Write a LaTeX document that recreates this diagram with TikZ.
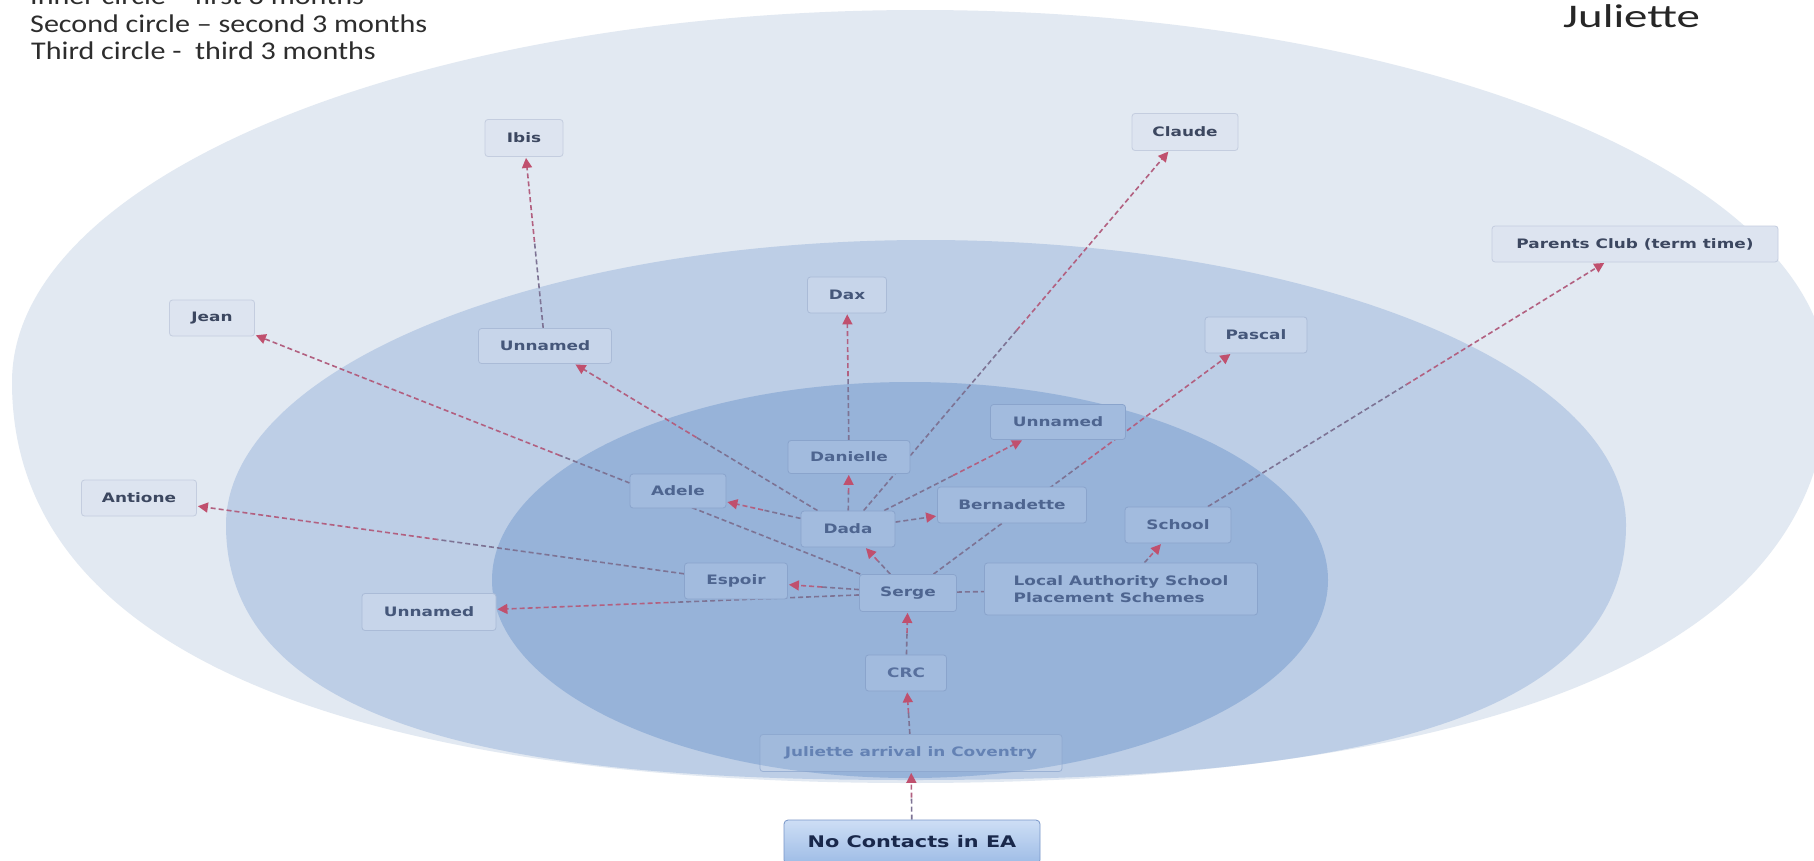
\documentclass[tikz,border=0pt]{standalone}
\usepackage{fontspec}
\usetikzlibrary{arrows.meta,calc}
\newfontfamily\nodefont[FakeStretch=1.3]{DejaVu Sans}
\newfontfamily\legfont[FakeStretch=1.18]{Carlito}
\newfontfamily\ttlfont[FakeStretch=1.42]{Carlito}
\definecolor{outerc}{RGB}{226,233,242}
\definecolor{midc}{RGB}{189,206,230}
\definecolor{innerc}{RGB}{151,179,217}
\definecolor{oboxf}{RGB}{221,228,240}
\definecolor{oboxd}{RGB}{196,205,223}
\definecolor{mboxf}{RGB}{199,213,234}
\definecolor{mboxd}{RGB}{170,187,215}
\definecolor{iboxf}{RGB}{162,187,222}
\definecolor{iboxd}{RGB}{138,164,204}
\definecolor{otext}{RGB}{60,71,96}
\definecolor{mtext}{RGB}{69,87,122}
\definecolor{itext}{RGB}{78,101,144}
\definecolor{crctext}{RGB}{88,112,158}
\definecolor{arrtext}{RGB}{100,130,180}
\definecolor{linkg}{RGB}{125,115,148}
\definecolor{linkr}{RGB}{178,96,128}
\definecolor{headc}{RGB}{192,80,110}
\definecolor{legc}{RGB}{45,45,45}
\definecolor{nctop}{RGB}{205,222,245}
\definecolor{ncbot}{RGB}{158,188,230}
\definecolor{ncdraw}{RGB}{120,150,200}
\definecolor{nctext}{RGB}{25,40,75}
\pgfdeclarelayer{bg}
\pgfdeclarelayer{links}
\pgfsetlayers{bg,links,main}
\tikzset{
  box/.style={rectangle, rounded corners=3pt, inner sep=0pt, line width=0.8pt,
    font=\nodefont\bfseries\fontsize{13}{15}\selectfont},
  obox/.style={box, fill=oboxf, draw=oboxd, text=otext},
  mbox/.style={box, fill=mboxf, draw=mboxd, text=mtext},
  ibox/.style={box, fill=iboxf, draw=iboxd, text=itext},
  sz/.style 2 args={minimum width=#1pt, minimum height=#2pt},
  linkA/.style={draw=linkg, line width=1.6pt, dash pattern=on 5pt off 3pt},
  linkB/.style={draw=linkr, line width=1.6pt, dash pattern=on 5pt off 3pt,
    -{Triangle[length=10pt,width=10pt,color=headc]}, shorten >=1pt},
  legend/.style={anchor=base west, inner sep=0pt, text=legc,
    font=\legfont\fontsize{25.5}{30}\selectfont}
}
\newcommand\lnk[2]{%
  \draw[linkA] (#1) -- ($(#1)!0.5!(#2)$);
  \draw[linkB] ($(#1)!0.5!(#2)$) -- (#2);}
\begin{document}
\begin{tikzpicture}[x=1pt,y=-1pt]
\useasboundingbox (0,0) rectangle (1814,860);
\begin{pgfonlayer}{bg}
\fill[white] (0,0) rectangle (1814,860);
\fill[outerc] (12,382) .. controls (12,176.5) and (418.5,10) .. (920,10)
  .. controls (1421.5,10) and (1828,176.5) .. (1828,382)
  .. controls (1828,720) and (1300,783) .. (910,783)
  .. controls (420,783) and (12,680) .. (12,382) -- cycle;
\fill[midc] (226,525) .. controls (226,367.6) and (539.4,240) .. (926,240)
  .. controls (1312.6,240) and (1626,367.6) .. (1626,525)
  .. controls (1626,750) and (1260,780) .. (910,780)
  .. controls (580,780) and (226,750) .. (226,525) -- cycle;
\fill[innerc] (910,580) ellipse [x radius=418, y radius=198];
\end{pgfonlayer}

% legend and title
\node[legend] (leg1) at (30,4) {Inner circle – first 3 months};
\node[legend] (leg2) at (30,32) {Second circle – second 3 months};
\node[legend] (leg3) at (31,59) {Third circle -\ \ third 3 months};
\node[anchor=base west, inner sep=0pt, text=black!85,
  font=\ttlfont\fontsize{33}{36}\selectfont] (title) at (1563,27) {Juliette};

% outer ring
\node[obox, sz={78}{37}] (ibis) at (524,138) {Ibis};
\node[obox, sz={106}{37}] (claude) at (1185,132) {Claude};
\node[obox, sz={286}{36}] (parents) at (1635,244) {Parents Club (term time)};
\node[obox, sz={85}{36}] (jean) at (212,318) {Jean};
\node[obox, sz={115}{36}] (antione) at (139,498) {Antione};
% middle ring
\node[mbox, sz={79}{36}] (dax) at (847,295) {Dax};
\node[mbox, sz={102}{36}] (pascal) at (1256,335) {Pascal};
\node[mbox, sz={133}{35}] (unA) at (545,346) {Unnamed};
\node[mbox, sz={134}{37}] (unC) at (429,612) {Unnamed};
% inner ring
\node[ibox, sz={135}{35}] (unB) at (1058,422) {Unnamed};
\node[ibox, sz={122}{33}] (danielle) at (849,457) {Danielle};
\node[ibox, sz={96}{34}] (adele) at (678,491) {Adele};
\node[ibox, sz={149}{36}] (bern) at (1012,505) {Bernadette};
\node[ibox, sz={94}{36}] (dada) at (848,529) {Dada};
\node[ibox, sz={106}{36}] (school) at (1178,525) {School};
\node[ibox, sz={103}{36}] (espoir) at (736,581) {Espoir};
\node[ibox, sz={97}{37}] (serge) at (908,593) {Serge};
\node[ibox, sz={273}{52}, align=left,
  font=\nodefont\bfseries\fontsize{13}{17}\selectfont] (la) at (1121,589)
  {Local Authority School\\Placement Schemes};
\node[ibox, sz={81}{36}, text=crctext] (crc) at (906,673) {CRC};
\node[box, sz={302}{37}, fill=white, fill opacity=0.1, text opacity=1,
  draw=iboxd, draw opacity=0.7, text=arrtext] (arrival) at (911,753)
  {Juliette arrival in Coventry};
\node[box, sz={256}{44}, rounded corners=4pt, top color=nctop, bottom color=ncbot,
  draw=ncdraw, text=nctext, font=\nodefont\bfseries\fontsize{16}{18}\selectfont]
  (nocon) at (912,842) {No Contacts in EA};

\begin{pgfonlayer}{links}
\lnk{nocon}{arrival}
\lnk{arrival}{crc}
\lnk{crc}{serge}
\lnk{serge}{dada}
\lnk{serge}{espoir}
\lnk{serge}{unC}
\lnk{serge}{la}
\lnk{serge}{jean}
\lnk{serge}{pascal}
\lnk{la}{school}
\lnk{school}{parents}
\lnk{espoir}{antione}
\lnk{dada}{adele}
\lnk{dada}{danielle}
\lnk{dada}{bern}
\lnk{dada}{unB}
\lnk{dada}{unA}
\lnk{dada}{claude}
\lnk{danielle}{dax}
\lnk{unA}{ibis}
\end{pgfonlayer}
\end{tikzpicture}
\end{document}
